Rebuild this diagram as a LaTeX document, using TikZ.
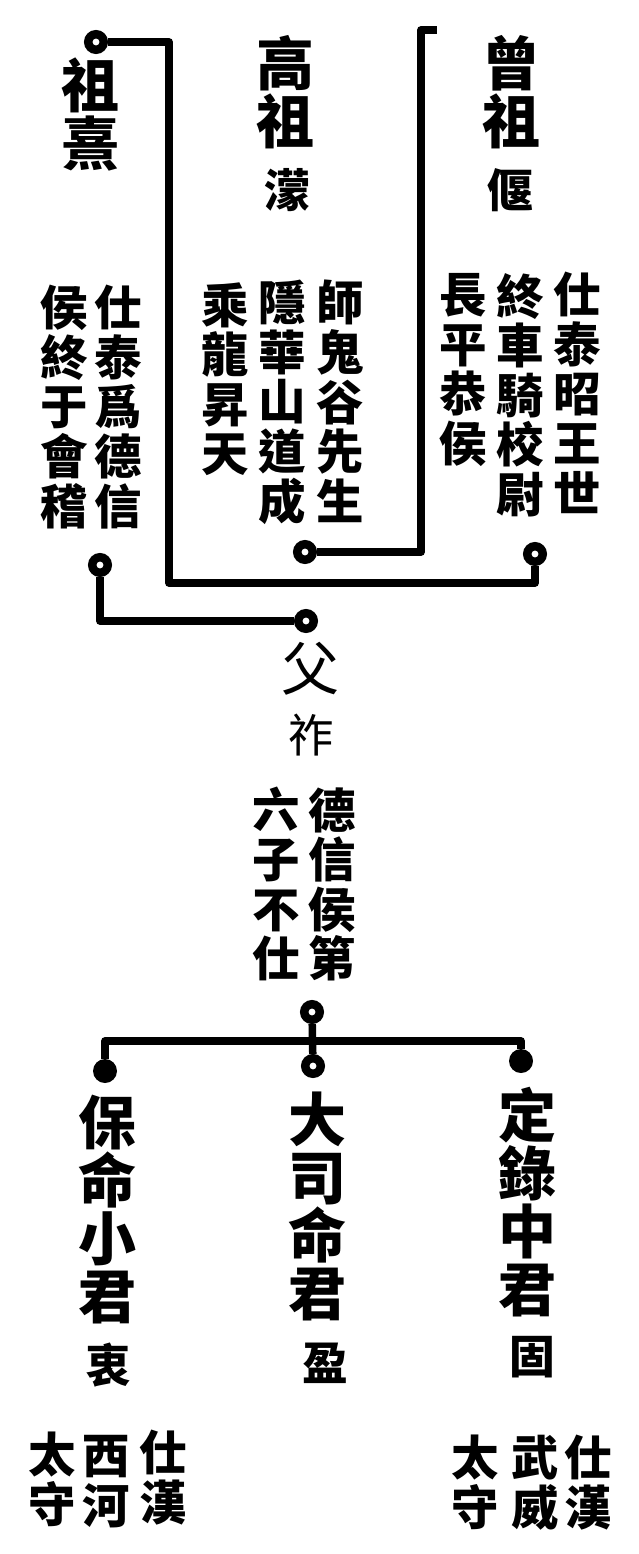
\documentclass[tikz,border=0pt]{standalone}
\usepackage{fontspec}
\newfontfamily\cjk{Noto Sans CJK TC}
\usetikzlibrary{positioning}

\begin{document}
\begin{tikzpicture}[x=0.2mm, y=-0.2mm,
        lineage/.style={line width=1.5mm, black, line join=round},
        ring/.style={circle, draw, line width=1.7mm, fill=white, minimum size=3.1mm, inner sep=0pt},
        dot/.style={circle, fill=black, minimum size=4.8mm, inner sep=0pt},
        bigname/.style={font=\cjk\bfseries\fontsize{33}{33}\selectfont, align=center, anchor=north, inner sep=0pt},
        gloss/.style={font=\cjk\bfseries\fontsize{27}{28.2}\selectfont, align=center, anchor=north, inner sep=0pt},
        given/.style={font=\cjk\bfseries\fontsize{26}{26}\selectfont, inner sep=0pt}
      ]
        % feste Bildgroesse
        \useasboundingbox (0,0) rectangle (638,1554);

        % Vorfahren
        \node[bigname] (xi) at (90,57) {祖\\熹};
        \node[bigname] (gaozu) at (285,35) {高\\祖};
        \node[bigname] (zengzu) at (511,35) {曾\\祖};
        \node[given] (meng) at (287,190) {濛};
        \node[given] (yan) at (510,190) {偃};

        \node[gloss] (yan-a) at (577,272) {仕\\泰\\昭\\王\\世};
        \node[gloss] (yan-b) at (520,273) {終\\車\\騎\\校\\尉};
        \node[gloss] (yan-c) at (463,273) {長\\平\\恭\\侯};
        \node[gloss] (meng-a) at (340,280) {師\\鬼\\谷\\先\\生};
        \node[gloss] (meng-b) at (282,280) {隱\\華\\山\\道\\成};
        \node[gloss] (meng-c) at (225,282) {乘\\龍\\昇\\天};
        \node[gloss] (xi-a) at (118,285) {仕\\泰\\爲\\德\\信};
        \node[gloss] (xi-b) at (64,285) {侯\\終\\于\\會\\稽};

        % Vater
        \node[bigname, font=\cjk\fontsize{33}{33}\selectfont] (fu) at (310,642) {父};
        \node[given, font=\cjk\fontsize{26}{26}\selectfont] (zuo) at (311,735) {祚};
        \node[gloss] (zuo-a) at (332,787) {德\\信\\侯\\第};
        \node[gloss] (zuo-b) at (276,787) {六\\子\\不\\仕};

        % Soehne
        \node[bigname] (bao) at (107,1095) {保\\命\\小\\君};
        \node[bigname] (siming) at (317,1092) {大\\司\\命\\君};
        \node[bigname] (ding) at (527,1087) {定\\錄\\中\\君};
        \node[given] (zhong) at (108,1365) {衷};
        \node[given] (ying) at (325,1363) {盈};
        \node[given] (gu) at (532,1357) {固};

        \node[gloss] (zhong-a) at (163,1430) {仕\\漢};
        \node[gloss] (zhong-b) at (106,1435) {西\\河};
        \node[gloss] (zhong-c) at (52,1432) {太\\守};
        \node[gloss] (gu-a) at (588,1435) {仕\\漢};
        \node[gloss] (gu-b) at (535,1435) {武\\威};
        \node[gloss] (gu-c) at (475,1435) {太\\守};

        % Ringe und Punkte
        \node[ring] (r-xi) at (96,42) {};
        \node[ring] (r-meng) at (305,552) {};
        \node[ring] (r-yan) at (535,554) {};
        \node[ring] (r-xib) at (100,565) {};
        \node[ring] (r-zuo) at (306,621) {};
        \node[ring] (r-zuob) at (312,1012) {};
        \node[dot] (r-bao) at (105,1071) {};
        \node[ring] (r-ying) at (313,1066) {};
        \node[dot] (r-ding) at (521,1061) {};

        % Knicke
        \coordinate (kA) at (169,583);
        \coordinate (kB) at (421,30);
        \coordinate (yan-top) at (437,30);
        \coordinate (bar) at (313,1041);

        % Linien
        \draw[lineage] (r-xi) -| (kA) -| (r-yan);
        \draw[lineage] (r-meng) -| (kB) -- (yan-top);
        \draw[lineage] (r-xib) |- (r-zuo);
        \draw[lineage] (r-zuob) -- (r-ying);
        \draw[lineage] (r-bao) |- (bar) -| (r-ding);
      \end{tikzpicture}
\end{document}
